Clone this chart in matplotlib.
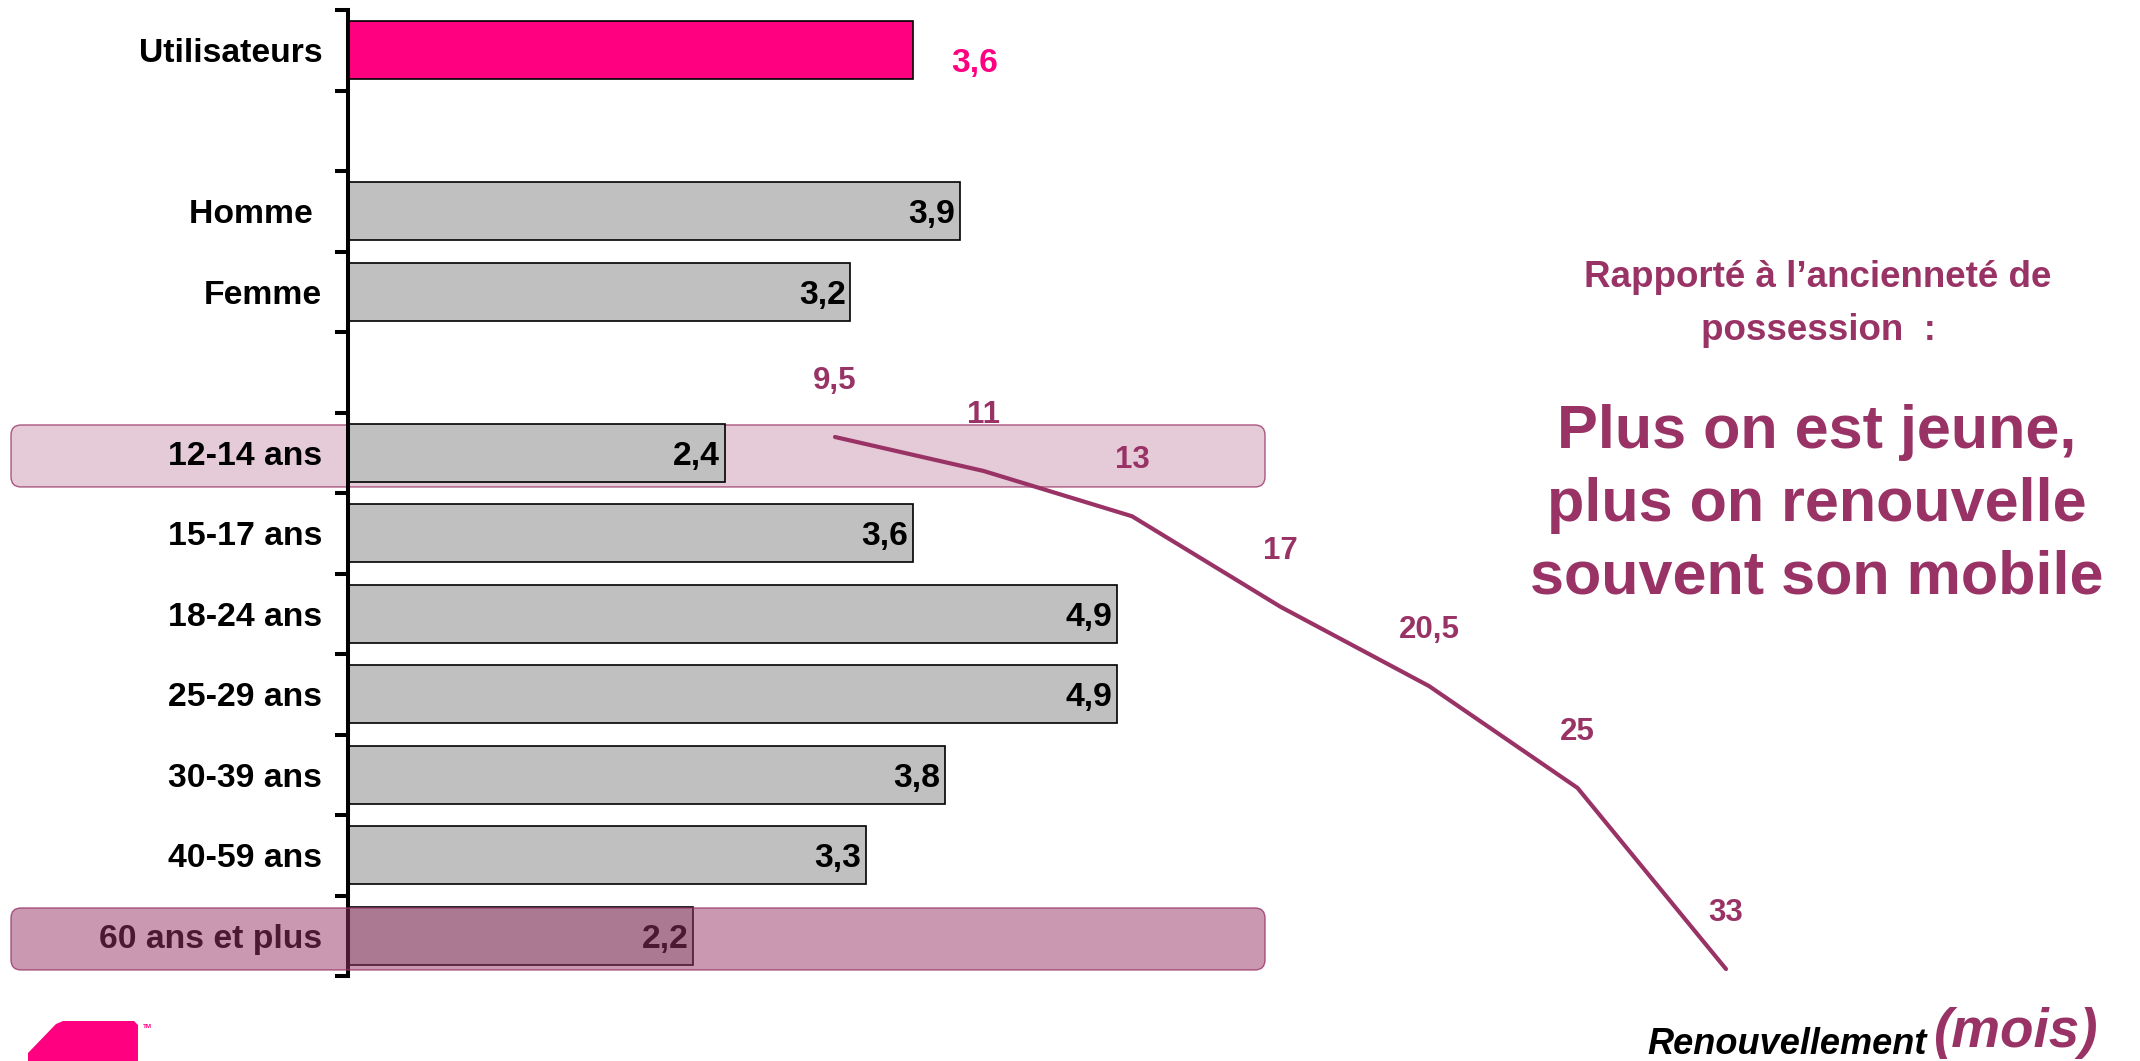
import matplotlib
matplotlib.use("Agg")
import matplotlib.pyplot as plt
from matplotlib.patches import FancyBboxPatch, Polygon
import numpy as np

plt.rcParams["font.family"] = ["Liberation Sans", "DejaVu Sans"]

# ---- data -------------------------------------------------------------
total_label = ["Utilisateurs"]
sexe_labels = ["Homme ", "Femme"]
age_labels = ["12-14 ans", "15-17 ans", "18-24 ans", "25-29 ans",
              "30-39 ans", "40-59 ans", "60 ans et plus"]

total_value = [3.6]
sexe_values = [3.9, 3.2]
age_values = [2.4, 3.6, 4.9, 4.9, 3.8, 3.3, 2.2]

# renouvellement moyen (mois) par tranche d'age
renouvellement_mois = [9.5, 11, 13, 17, 20.5, 25, 33]

PINK = "#FF0080"
GREY = "#C0C0C0"
PURPLE = "#993366"


def fmt(v):
    return f"{v:g}".replace(".", ",")


# ---- layout -----------------------------------------------------------
W, H = 2140, 1061
fig = plt.figure(figsize=(W / 100, H / 100), dpi=100)

# rows: one empty slot between groups
groups = [(total_label, total_value), (sexe_labels, sexe_values), (age_labels, age_values)]
labels, values, rows, colors = [], [], [], []
pos = 0
for gi, (labs, vals) in enumerate(groups):
    for lab, val in zip(labs, vals):
        labels.append(lab)
        values.append(val)
        rows.append(pos)
        colors.append(PINK if gi == 0 else GREY)
        pos += 1
    pos += 1
n_slots = pos - 1

AXIS_X = 348      # px
TOP_Y = 10        # px
SLOT = 80.5       # px per row
UNIT = 157        # px per unit of value
XMAX = 6
LABEL_SIZE = 24.3

# pixel-space layer for free text and the logo
ax_px = fig.add_axes([0, 0, 1, 1], zorder=0)
ax_px.set_xlim(0, W)
ax_px.set_ylim(H, 0)
ax_px.axis("off")

ax = fig.add_axes([AXIS_X / W, (H - TOP_Y - n_slots * SLOT) / H,
                   XMAX * UNIT / W, n_slots * SLOT / H], zorder=1)
ax.set_facecolor("none")
ax.set_xlim(0, XMAX)
ax.set_ylim(n_slots - 0.5, -0.5)

ax.barh(rows, values, height=0.72, color=colors, edgecolor="black",
        linewidth=1.2, zorder=2)

for r, v, c in zip(rows, values, colors):
    if c == PINK:
        ax.text(v + 0.24, r + 0.12, fmt(v), ha="left", va="center_baseline",
                fontsize=LABEL_SIZE, fontweight="bold", color=PINK, zorder=3)
    else:
        ax.text(v - 0.03, r, fmt(v), ha="right", va="center_baseline",
                fontsize=LABEL_SIZE, fontweight="bold", color="black", zorder=3)

for s in ("top", "right", "bottom"):
    ax.spines[s].set_visible(False)
ax.spines["left"].set_linewidth(2.9)
ax.set_xticks([])
ax.set_yticks(rows, labels=labels)
ax.set_yticks(np.arange(-0.5, n_slots), minor=True)
ax.tick_params(axis="y", which="major", length=0, pad=18.5, labelsize=LABEL_SIZE)
ax.tick_params(axis="y", which="minor", length=9.4, width=2.9, direction="out")
for t in ax.get_yticklabels():
    t.set_fontweight("bold")

# highlight bands for the youngest and the oldest age groups
band_x0 = (11 - AXIS_X) / UNIT
band_x1 = (1265 - AXIS_X) / UNIT
aspect = UNIT / SLOT
first_age = rows[len(total_label) + len(sexe_labels)]
last_age = rows[-1]
for r, alpha, z in ((first_age, 0.25, 0.5), (last_age, 0.5, 5)):
    band = FancyBboxPatch((band_x0, r - 0.345), band_x1 - band_x0, 0.77,
                          boxstyle="round,pad=0,rounding_size=0.064",
                          mutation_aspect=aspect,
                          facecolor=PURPLE, alpha=alpha, edgecolor="none",
                          zorder=z, clip_on=False)
    ax.add_patch(band)
    edge = FancyBboxPatch((band_x0, r - 0.345), band_x1 - band_x0, 0.77,
                          boxstyle="round,pad=0,rounding_size=0.064",
                          mutation_aspect=aspect,
                          facecolor="none", edgecolor=PURPLE, linewidth=1.0,
                          alpha=0.8, zorder=z, clip_on=False)
    ax.add_patch(edge)

# ---- renewal line ------------------------------------------------------
LX0, LDX = 835, 148.5          # px of first point, px between points
Y0_PX, Y0_V, PX_PER_M = 437, 9.5, 22.64
ax2 = fig.add_axes([0, 0, 1, 1], zorder=2)
ax2.patch.set_visible(False)
ax2.axis("off")
ax2.set_xlim(-LX0 / LDX, (W - LX0) / LDX)
ax2.set_ylim(Y0_V + (H - Y0_PX) / PX_PER_M, Y0_V - Y0_PX / PX_PER_M)
xs = np.arange(len(renouvellement_mois))
ax2.plot(xs, renouvellement_mois, color=PURPLE, linewidth=3,
         solid_capstyle="round", solid_joinstyle="round")
for x, m in zip(xs, renouvellement_mois):
    ax2.annotate(fmt(m), (x, m), xytext=(0, 43), textcoords="offset points",
                 ha="center", va="center_baseline", fontsize=22.5,
                 fontweight="bold", color=PURPLE)

# ---- commentary text ---------------------------------------------------
ax_px.text(1818, 304, "Rapporté à l’ancienneté de\npossession  :",
           ha="center", va="center", fontsize=26.5, fontweight="bold",
           color=PURPLE, linespacing=1.65)
ax_px.text(1817, 505, "Plus on est jeune,\nplus on renouvelle\nsouvent son mobile",
           ha="center", va="center", fontsize=44, fontweight="bold",
           color=PURPLE, linespacing=1.36)
ax_px.text(1647, 1054, "Renouvellement", ha="left", va="baseline",
           fontsize=26, fontweight="bold", fontstyle="italic", color="black")
ax_px.text(1933, 1047, "(mois)", ha="left", va="baseline",
           fontsize=39.5, fontweight="bold", fontstyle="italic", color=PURPLE)

# logo mark, bottom left
logo = Polygon([(28, 1061), (28, 1053), (56, 1024), (63, 1021), (134, 1021),
                (138, 1025), (138, 1061)], closed=True, facecolor=PINK,
               edgecolor="none")
ax_px.add_patch(logo)
ax_px.text(143, 1027, "TM", fontsize=4.5, color=PINK, fontweight="bold",
           ha="left", va="center")

fig.savefig("out.png", dpi=100, facecolor="white")
